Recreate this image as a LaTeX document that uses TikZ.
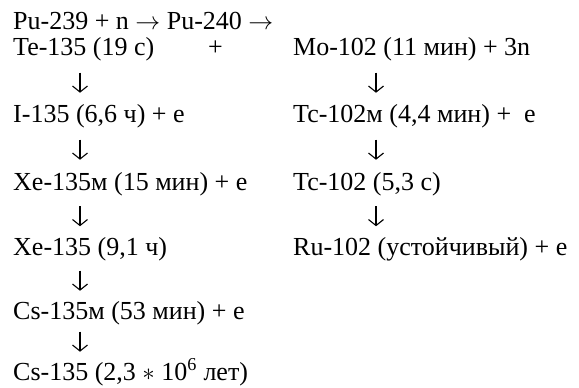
\documentclass[tikz,border=0pt]{standalone}
\usepackage{fontspec}
\setmainfont{Liberation Serif}
\usetikzlibrary{arrows.meta,calc}

\begin{document}
\begin{tikzpicture}[x=1pt,y=-1pt,
  every node/.style={anchor=base west,inner sep=0pt,font=\fontsize{26}{31}\selectfont},
  decay/.style={line width=1.1pt,-{Straight Barb[length=6pt,width=15pt]}}]
\useasboundingbox (0,0) rectangle (579,388);
\coordinate (lx) at (80,0);
\coordinate (rx) at (376,0);
% reaction line
\node (pu) at (13,30) {Pu-239 + n $\rightarrow$ Pu-240 $\rightarrow$};
\node (te) at (13,56) {Te-135 (19 с)};
\node (plus) at (208,56) {+};
\node (mo) at (293,56) {Mo-102 (11 мин) + 3n};
% iodine - xenon chain
\node (iod) at (13,122) {I-135 (6,6 ч) + е};
\node (xem) at (13,190) {Xe-135м (15 мин) + е};
\node (xe) at (13,255) {Xe-135 (9,1 ч)};
\node (csm) at (13,319) {Cs-135м (53 мин) + е};
\node (cs) at (13,380) {Cs-135 (2,3 $\ast$ 10\textsuperscript{6} лет)};
% technetium chain
\node (tcm) at (293,122) {Tc-102м (4,4 мин) +\enspace е};
\node (tc) at (293,190) {Tc-102 (5,3 с)};
\node (ru) at (293,255) {Ru-102 (устойчивый) + е};
\foreach \a/\b in {te/iod,iod/xem,xem/xe,xe/csm,csm/cs}
  \draw[decay] ($(\a.south -| lx)!.5!(\b.north -| lx)$) +(0,-10) -- +(0,10);
\foreach \a/\b in {mo/tcm,tcm/tc,tc/ru}
  \draw[decay] ($(\a.south -| rx)!.5!(\b.north -| rx)$) +(0,-10) -- +(0,10);
\end{tikzpicture}
\end{document}
